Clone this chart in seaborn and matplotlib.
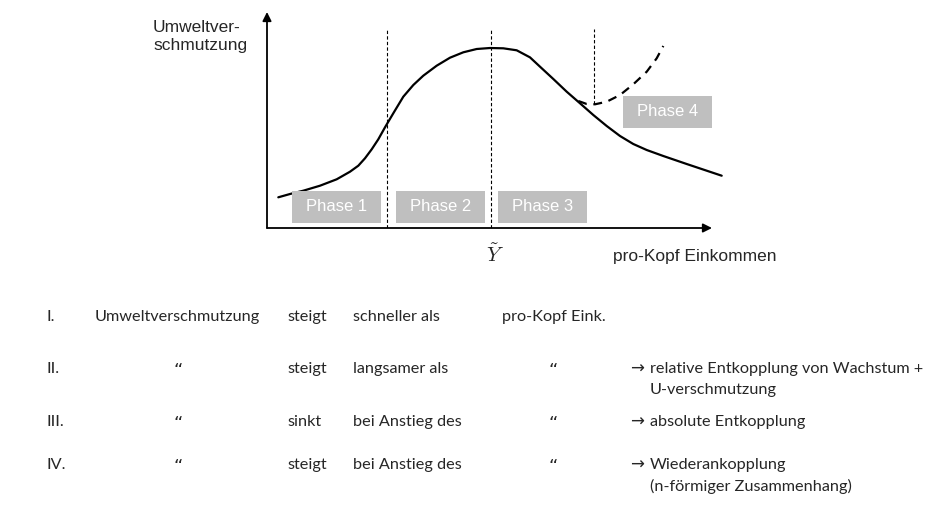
import matplotlib
matplotlib.use("Agg")
import matplotlib.pyplot as plt
import seaborn as sns
from matplotlib.patches import Rectangle

income = [2.54, 5.17, 8.16, 11.91, 15.66, 18.65, 20.52, 22.02, 23.53, 25.01,
          26.52, 28.38, 30.63, 32.88, 35.12, 38.13, 41.12, 44.11, 47.12, 50.11,
          53.10, 56.11, 59.1, 61.35, 64.34, 67.35, 70.34, 73.33, 76.34, 79.33,
          82.31, 85.33, 89.06, 94.31, 98.81, 102.18]
pollution = [14.21, 15.74, 17.27, 19.58, 22.55, 26.06, 28.84, 32.27, 36.44, 41.06,
             46.62, 53.10, 60.79, 66.20, 70.51, 75.14, 78.84, 81.34, 82.87, 83.33,
             83.19, 82.27, 79.0, 74.68, 68.98, 63.10, 57.73, 52.31, 47.22, 42.59,
             38.89, 36.11, 33.33, 29.63, 26.53, 24.21]

# Wiederankopplung (gestrichelt)
income_re = [69.96, 71.84, 73.71, 76.34, 79.33, 82.31, 85.33, 87.57, 89.06]
pollution_re = [58.80, 57.41, 57.27, 58.47, 61.57, 66.53, 72.36, 78.56, 84.26]

# Phasengrenzen
boundaries = [27.0, 50.3]
boundary4 = 73.55

phase_labels = ["Phase 1", "Phase 2", "Phase 3", "Phase 4"]

# Tabelle unten
row_nums = ["I.", "II.", "III.", "IV."]
row_subject = ["Umweltverschmutzung", "\u201c", "\u201c", "\u201c"]
row_verb = ["steigt", "steigt", "sinkt", "steigt"]
row_comp = ["schneller als", "langsamer als", "bei Anstieg des", "bei Anstieg des"]
row_object = ["pro-Kopf Eink.", "\u201c", "\u201c", "\u201c"]
row_note = [[], ["relative Entkopplung von Wachstum +", "U-verschmutzung"],
            ["absolute Entkopplung"], ["Wiederankopplung", "(n-förmiger Zusammenhang)"]]


def main():
    sns.set_style("white")
    plt.rcParams["font.family"] = ["Liberation Sans", "DejaVu Sans"]
    plt.rcParams["mathtext.fontset"] = "cm"

    W, H = 949, 515
    fig = plt.figure(figsize=(W / 100, H / 100), dpi=100)

    # Achsen so platzieren, dass 1 Einheit x = 4.45 px, 1 Einheit y = 2.16 px
    x0, y0 = 267, 228
    ax = fig.add_axes([x0 / W, (H - y0) / H, 104 * 4.45 / W, 101 * 2.16 / H])
    ax.set_xlim(0, 104)
    ax.set_ylim(0, 101)
    ax.axis("off")

    # Achsen mit Pfeilen
    arrow = dict(arrowstyle="-|>", color="black", lw=1.3, mutation_scale=13,
                 shrinkA=0, shrinkB=0)
    ax.annotate("", xy=(100, 0), xytext=(0, 0), arrowprops=arrow, annotation_clip=False)
    ax.annotate("", xy=(0, 100), xytext=(0, 0), arrowprops=arrow, annotation_clip=False)

    # Phasengrenzen
    for b in boundaries:
        ax.plot([b, b], [0, 92.1], color="black", lw=0.8, ls=(0, (3, 2)))
    ax.plot([boundary4, boundary4], [57.27, 92.1], color="black", lw=0.8,
            ls=(0, (3, 2)))

    sns.lineplot(x=income, y=pollution, ax=ax, color="black", lw=1.6,
                 sort=False, estimator=None)
    sns.lineplot(x=income_re, y=pollution_re, ax=ax, color="black", lw=1.6,
                 sort=False, estimator=None, linestyle=(0, (4, 3)))

    # Phasen-Kästen
    boxes = [(5.6, 2.3), (29.0, 2.3), (51.9, 2.3), (80.0, 46.3)]
    for (bx, by), lab in zip(boxes, phase_labels):
        ax.add_patch(Rectangle((bx, by), 20.0, 15.0, facecolor="#bfbfbf",
                               edgecolor="none", zorder=3))
        ax.text(bx + 10.0, by + 7.5, lab, ha="center", va="center", color="white",
                fontsize=12, zorder=4)

    # Achsenbeschriftungen
    fig.text(153 / W, 1 - 20 / H, "Umweltver-\nschmutzung", ha="left", va="top",
             fontsize=12.5, linespacing=1.25)
    fig.text(613 / W, 1 - 256 / H, "pro-Kopf Einkommen", ha="left", va="center",
             fontsize=12.5)
    fig.text(495 / W, 1 - 255 / H, r"$\tilde{Y}$", ha="center", va="center",
             fontsize=15)

    # Tabelle
    body = dict(fontsize=11.7, family=["Lato", "DejaVu Sans"], va="center")
    quote = dict(fontsize=13, family="DejaVu Sans", va="center", ha="center")
    ys = [317, 369, 422, 465]
    for i, y in enumerate(ys):
        fy = 1 - y / H
        fig.text(47 / W, fy, row_nums[i], ha="left", **body)
        if i == 0:
            fig.text(95 / W, fy, row_subject[i], ha="left", **body)
        else:
            fig.text(178 / W, 1 - (y + 2) / H, row_subject[i], **quote)
        fig.text(287 / W, fy, row_verb[i], ha="left", **body)
        fig.text(353 / W, fy, row_comp[i], ha="left", **body)
        if i == 0:
            fig.text(502 / W, fy, row_object[i], ha="left", **body)
        else:
            fig.text(553 / W, 1 - (y + 2) / H, row_object[i], **quote)
        if row_note[i]:
            fig.text(630 / W, 1 - y / H, "\u2192", ha="left", fontsize=12,
                     family="DejaVu Sans", va="center")
            for k, line in enumerate(row_note[i]):
                fig.text(650 / W, 1 - (y + 21 * k) / H, line, ha="left", **body)

    fig.savefig("out.png", dpi=100)
    plt.close(fig)


if __name__ == "__main__":
    main()
